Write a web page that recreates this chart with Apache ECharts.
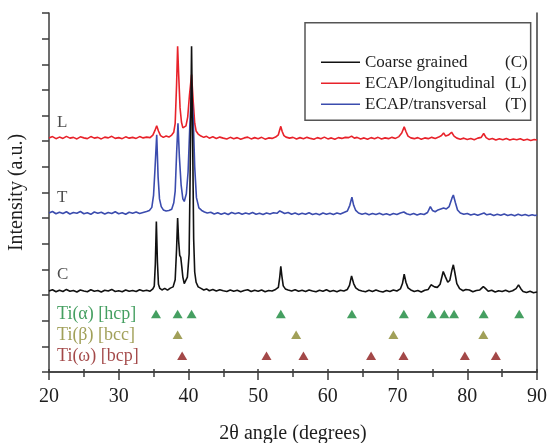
<!DOCTYPE html>
<html><head><meta charset="utf-8">
<script src="https://cdn.jsdelivr.net/npm/echarts@6/dist/echarts.min.js"></script>
<style>html,body{margin:0;padding:0;background:#fff}#c{width:548px;height:443px}</style>
</head><body><div id="c"></div>
<script>
// ---- data (2θ in degrees, intensity in offset arbitrary units) ----
const coarseData = [[20.0,3.16],[20.5,3.21],[21.0,3.13],[21.5,3.19],[22.0,3.14],[22.5,3.22],[23.0,3.15],[23.5,3.18],[24.0,3.12],[24.5,3.2],[25.0,3.16],[25.5,3.13],[26.0,3.21],[26.5,3.15],[27.0,3.18],[27.5,3.12],[28.0,3.19],[28.5,3.16],[29.0,3.22],[29.5,3.14],[30.0,3.17],[30.5,3.13],[31.0,3.2],[31.5,3.15],[32.0,3.18],[32.5,3.14],[33.0,3.21],[33.5,3.16],[34.0,3.19],[34.5,3.15],[34.9,3.24],[35.1,3.35],[35.25,4.2],[35.4,5.87],[35.55,4.3],[35.7,3.42],[35.9,3.26],[36.2,3.2],[36.6,3.26],[37.0,3.19],[37.4,3.27],[37.8,3.32],[38.1,3.6],[38.3,4.8],[38.45,6.0],[38.6,5.1],[38.75,4.55],[38.9,4.47],[39.05,4.1],[39.2,3.7],[39.4,3.45],[39.6,3.42],[39.85,3.7],[40.1,4.6],[40.25,7.8],[40.45,12.7],[40.6,9.2],[40.75,5.2],[40.9,3.9],[41.1,3.5],[41.4,3.32],[41.8,3.26],[42.2,3.2],[42.6,3.24],[43.0,3.17],[43.5,3.22],[44.0,3.16],[44.5,3.21],[45.0,3.17],[45.5,3.14],[46.0,3.2],[46.5,3.15],[47.0,3.19],[47.5,3.13],[48.0,3.18],[48.5,3.21],[49.0,3.14],[49.5,3.19],[50.0,3.15],[50.5,3.2],[51.0,3.13],[51.5,3.18],[52.0,3.16],[52.5,3.22],[52.9,3.3],[53.1,3.7],[53.25,4.12],[53.4,3.75],[53.6,3.36],[53.9,3.24],[54.3,3.2],[54.8,3.16],[55.3,3.21],[55.8,3.15],[56.3,3.19],[56.8,3.14],[57.3,3.2],[57.8,3.16],[58.3,3.13],[58.8,3.19],[59.3,3.15],[59.8,3.21],[60.3,3.14],[60.8,3.18],[61.3,3.13],[61.8,3.19],[62.3,3.16],[62.8,3.22],[63.1,3.38],[63.4,3.75],[63.7,3.45],[64.0,3.28],[64.4,3.2],[64.9,3.16],[65.4,3.13],[65.9,3.19],[66.4,3.14],[66.9,3.2],[67.4,3.15],[67.9,3.12],[68.4,3.18],[68.9,3.14],[69.4,3.2],[69.9,3.16],[70.4,3.24],[70.7,3.45],[70.95,3.82],[71.2,3.5],[71.5,3.28],[71.9,3.2],[72.4,3.14],[72.9,3.18],[73.4,3.12],[73.9,3.19],[74.4,3.22],[74.8,3.4],[75.0,3.46],[75.3,3.32],[75.7,3.3],[76.1,3.42],[76.55,3.92],[76.85,3.72],[77.2,3.5],[77.5,3.58],[77.8,3.98],[78.0,4.18],[78.2,3.9],[78.5,3.45],[78.9,3.25],[79.4,3.17],[79.8,3.22],[80.0,3.28],[80.3,3.2],[80.8,3.13],[81.3,3.18],[81.8,3.2],[82.3,3.33],[82.6,3.26],[83.0,3.15],[83.5,3.19],[84.0,3.12],[84.5,3.17],[85.0,3.14],[85.5,3.19],[86.0,3.13],[86.5,3.17],[87.0,3.25],[87.35,3.4],[87.7,3.24],[88.0,3.14],[88.5,3.1],[89.0,3.15],[89.5,3.09],[90.0,3.12]];

const longitudinalData = [[20.0,9.13],[20.5,9.18],[21.0,9.1],[21.5,9.16],[22.0,9.11],[22.5,9.19],[23.0,9.12],[23.5,9.15],[24.0,9.09],[24.5,9.17],[25.0,9.13],[25.5,9.1],[26.0,9.18],[26.5,9.12],[27.0,9.15],[27.5,9.09],[28.0,9.16],[28.5,9.13],[29.0,9.19],[29.5,9.11],[30.0,9.14],[30.5,9.1],[31.0,9.17],[31.5,9.12],[32.0,9.15],[32.5,9.11],[33.0,9.18],[33.5,9.13],[34.0,9.16],[34.5,9.14],[34.9,9.24],[35.2,9.42],[35.45,9.6],[35.7,9.4],[36.0,9.22],[36.4,9.15],[36.8,9.2],[37.2,9.16],[37.6,9.24],[37.9,9.35],[38.1,9.7],[38.3,11.2],[38.45,12.7],[38.6,11.6],[38.8,10.3],[39.0,9.75],[39.2,9.52],[39.4,9.45],[39.65,9.6],[39.9,9.95],[40.15,10.8],[40.45,11.6],[40.7,10.5],[40.9,9.7],[41.1,9.4],[41.4,9.28],[41.8,9.2],[42.2,9.15],[42.6,9.19],[43.0,9.12],[43.5,9.17],[44.0,9.11],[44.5,9.16],[45.0,9.12],[45.5,9.09],[46.0,9.15],[46.5,9.1],[47.0,9.14],[47.5,9.08],[48.0,9.13],[48.5,9.16],[49.0,9.09],[49.5,9.14],[50.0,9.1],[50.5,9.15],[51.0,9.08],[51.5,9.13],[52.0,9.11],[52.5,9.16],[52.9,9.25],[53.1,9.45],[53.25,9.58],[53.45,9.38],[53.7,9.22],[54.0,9.16],[54.5,9.12],[55.0,9.15],[55.5,9.09],[56.0,9.14],[56.5,9.1],[57.0,9.15],[57.5,9.11],[58.0,9.08],[58.5,9.14],[59.0,9.1],[59.5,9.16],[60.0,9.09],[60.5,9.13],[61.0,9.08],[61.5,9.14],[62.0,9.11],[62.5,9.15],[63.0,9.14],[63.4,9.2],[63.8,9.12],[64.2,9.15],[64.7,9.09],[65.2,9.13],[65.7,9.08],[66.2,9.14],[66.7,9.1],[67.2,9.15],[67.7,9.09],[68.2,9.13],[68.7,9.1],[69.2,9.15],[69.7,9.11],[70.2,9.18],[70.6,9.32],[70.95,9.56],[71.2,9.38],[71.5,9.2],[71.9,9.13],[72.4,9.1],[72.9,9.14],[73.4,9.08],[73.9,9.13],[74.4,9.1],[74.9,9.15],[75.4,9.11],[75.9,9.16],[76.3,9.22],[76.6,9.32],[76.9,9.2],[77.3,9.24],[77.75,9.35],[78.1,9.2],[78.5,9.12],[79.0,9.08],[79.5,9.12],[80.0,9.07],[80.5,9.11],[81.0,9.06],[81.5,9.12],[82.0,9.15],[82.35,9.3],[82.7,9.14],[83.1,9.07],[83.6,9.11],[84.1,9.05],[84.6,9.1],[85.1,9.06],[85.6,9.11],[86.1,9.05],[86.6,9.09],[87.1,9.06],[87.6,9.1],[88.1,9.04],[88.6,9.08],[89.1,9.03],[89.6,9.07],[90.0,9.05]];

const transversalData = [[20.0,6.2],[20.5,6.26],[21.0,6.17],[21.5,6.23],[22.0,6.18],[22.5,6.25],[23.0,6.16],[23.5,6.22],[24.0,6.19],[24.5,6.26],[25.0,6.17],[25.5,6.21],[26.0,6.15],[26.5,6.24],[27.0,6.19],[27.5,6.23],[28.0,6.16],[28.5,6.22],[29.0,6.18],[29.5,6.25],[30.0,6.17],[30.5,6.21],[31.0,6.15],[31.5,6.23],[32.0,6.19],[32.5,6.24],[33.0,6.18],[33.5,6.22],[34.0,6.26],[34.4,6.3],[34.75,6.42],[35.0,6.9],[35.2,7.9],[35.45,9.25],[35.65,7.6],[35.85,6.75],[36.1,6.45],[36.4,6.32],[36.8,6.28],[37.2,6.3],[37.6,6.35],[37.9,6.6],[38.1,7.05],[38.3,8.5],[38.5,9.7],[38.7,8.4],[38.95,7.3],[39.2,6.75],[39.4,6.65],[39.7,6.95],[39.95,7.8],[40.2,9.6],[40.45,11.1],[40.7,9.8],[40.9,8.0],[41.15,6.8],[41.5,6.4],[41.9,6.3],[42.3,6.24],[42.7,6.2],[43.2,6.23],[43.7,6.16],[44.2,6.21],[44.7,6.15],[45.2,6.2],[45.7,6.14],[46.2,6.22],[46.7,6.17],[47.2,6.21],[47.7,6.15],[48.2,6.2],[48.7,6.16],[49.2,6.22],[49.7,6.15],[50.2,6.19],[50.7,6.14],[51.2,6.2],[51.7,6.16],[52.2,6.21],[52.7,6.19],[53.1,6.28],[53.4,6.24],[53.8,6.18],[54.3,6.22],[54.8,6.15],[55.3,6.2],[55.8,6.14],[56.3,6.19],[56.8,6.15],[57.3,6.21],[57.8,6.14],[58.3,6.18],[58.8,6.13],[59.3,6.2],[59.8,6.15],[60.3,6.19],[60.8,6.14],[61.3,6.2],[61.8,6.16],[62.3,6.22],[62.8,6.28],[63.15,6.5],[63.45,6.82],[63.7,6.5],[64.0,6.3],[64.4,6.2],[64.9,6.15],[65.4,6.19],[65.9,6.13],[66.4,6.18],[66.9,6.14],[67.4,6.19],[67.9,6.13],[68.4,6.17],[68.9,6.12],[69.4,6.18],[69.9,6.14],[70.4,6.2],[70.9,6.24],[71.3,6.17],[71.8,6.13],[72.3,6.18],[72.8,6.12],[73.3,6.17],[73.8,6.14],[74.3,6.22],[74.7,6.45],[75.0,6.3],[75.4,6.25],[75.8,6.32],[76.2,6.36],[76.6,6.4],[77.0,6.36],[77.4,6.45],[77.8,6.78],[78.0,6.9],[78.3,6.6],[78.6,6.32],[79.0,6.2],[79.5,6.15],[80.0,6.18],[80.5,6.12],[81.0,6.16],[81.5,6.11],[82.0,6.16],[82.4,6.2],[82.8,6.13],[83.3,6.16],[83.8,6.1],[84.3,6.15],[84.8,6.11],[85.3,6.16],[85.8,6.1],[86.3,6.14],[86.8,6.09],[87.3,6.15],[87.8,6.1],[88.3,6.14],[88.8,6.09],[89.3,6.13],[89.7,6.1],[90.0,6.12]];

// reference peak positions (2θ) for each phase
const alphaPeaks = [35.35, 38.45, 40.45, 53.25, 63.45, 70.9, 74.9, 76.7, 78.1, 82.35, 87.45];
const betaPeaks  = [38.45, 55.45, 69.4, 82.3];
const omegaPeaks = [39.1, 51.2, 56.5, 66.2, 70.85, 79.65, 84.1];

const xTicks = [20, 30, 40, 50, 60, 70, 80, 90];
const seriesNames = ['Coarse grained', 'ECAP/longitudinal', 'ECAP/transversal'];
const seriesCodes = ['(C)', '(L)', '(T)'];
const traceLetters = ['C', 'L', 'T'];
const phaseLabels = ['Ti(α) [hcp]', 'Ti(β) [bcc]', 'Ti(ω) [bcp]'];

// ---- layout / style ----
const FONT = '"Liberation Serif", "Times New Roman", serif';
const TXT = '#1e1e1e';
const AX = '#3c3c3c';
const traceColors = ['#111111', '#e8222a', '#3b4cae'];
const phaseColors = ['#17873a', '#8a8830', '#8c1a1a'];
const phaseRowY = [2.26, 1.45, 0.63];
const letterY = [3.8, 9.72, 6.8];
const labelX = 21.15;

const traces = [coarseData, longitudinalData, transversalData];
const drawOrder = [1, 2, 0];

const series = [];
drawOrder.forEach(i => {
  series.push({
    name: seriesNames[i], type: 'line', data: traces[i], symbol: 'none',
    lineStyle: { color: traceColors[i], width: 1.6 }, itemStyle: { color: traceColors[i] },
    animation: false, silent: true, z: 3 + (i === 0 ? 1 : 0)
  });
});
traceLetters.forEach((t, i) => {
  series.push({
    type: 'scatter', data: [[labelX, letterY[i]]], symbolSize: 0, silent: true, animation: false,
    label: { show: true, position: 'right', distance: 0, formatter: t, fontFamily: FONT, fontSize: 17, color: TXT }
  });
});
[alphaPeaks, betaPeaks, omegaPeaks].forEach((arr, k) => {
  series.push({
    type: 'scatter', data: arr.map(x => [x, phaseRowY[k]]), symbol: 'triangle', symbolSize: [10, 8.5],
    itemStyle: { color: phaseColors[k] }, silent: true, animation: false
  });
  series.push({
    type: 'scatter', data: [[labelX, phaseRowY[k]]], symbolSize: 0, silent: true, animation: false,
    label: { show: true, position: 'right', distance: 0, formatter: phaseLabels[k], fontFamily: FONT, fontSize: 18, color: phaseColors[k] }
  });
});

const axisLineStyle = { color: AX, width: 1.5 };
const chart = echarts.init(document.getElementById('c'), null, { renderer: 'canvas' });
chart.setOption({
  animation: false,
  backgroundColor: '#fff',
  grid: { left: 49, right: 11, top: 13, bottom: 71, containLabel: false, outerBoundsMode: 'none' },
  xAxis: [
    { type: 'value', min: xTicks[0], max: xTicks[xTicks.length - 1], interval: 10, position: 'bottom',
      axisLine: { show: true, lineStyle: axisLineStyle },
      axisTick: { show: true, inside: false, length: 8, lineStyle: axisLineStyle },
      minorTick: { show: true, splitNumber: 2, length: 5, lineStyle: axisLineStyle },
      splitLine: { show: false }, minorSplitLine: { show: false },
      axisLabel: { fontFamily: FONT, fontSize: 20, color: TXT, margin: 15 },
      name: '2θ angle (degrees)', nameLocation: 'middle', nameGap: 52,
      nameTextStyle: { fontFamily: FONT, fontSize: 20, color: TXT } },
    { type: 'value', min: xTicks[0], max: xTicks[xTicks.length - 1], interval: 5, position: 'top',
      axisLine: { show: true, lineStyle: axisLineStyle },
      axisTick: { show: true, inside: false, length: 3, lineStyle: axisLineStyle },
      splitLine: { show: false }, axisLabel: { show: false } }
  ],
  yAxis: [
    { type: 'value', min: 0, max: 14, interval: 1, position: 'left',
      axisLine: { show: true, lineStyle: axisLineStyle },
      axisTick: { show: true, inside: false, length: 7, lineStyle: axisLineStyle },
      splitLine: { show: false }, axisLabel: { show: false },
      name: 'Intensity (a.u.)', nameLocation: 'middle', nameGap: 22,
      nameTextStyle: { fontFamily: FONT, fontSize: 20, color: TXT } },
    { type: 'value', min: 0, max: 14, interval: 1, position: 'right',
      axisLine: { show: true, lineStyle: axisLineStyle },
      axisTick: { show: false }, splitLine: { show: false }, axisLabel: { show: false } }
  ],
  legend: {
    data: seriesNames, orient: 'vertical', left: 305, top: 22.7,
    padding: [31, 3, 7.5, 16], itemGap: 4, itemWidth: 39, itemHeight: 1.5, icon: 'rect',
    borderColor: '#555', borderWidth: 1.5, backgroundColor: '#fff',
    selectedMode: false,
    formatter: name => '{n|' + name + '}{k|' + seriesCodes[seriesNames.indexOf(name)] + '}',
    textStyle: { fontFamily: FONT, fontSize: 17, color: TXT,
      rich: { n: { width: 140, fontFamily: FONT, fontSize: 17, lineHeight: 17, color: TXT },
              k: { fontFamily: FONT, fontSize: 17, lineHeight: 17, color: TXT } } }
  },
  graphic: [
    { type: 'text', x: 421, y: 40, silent: true,
      style: { text: 'Ti-6Al-7Nb alloy', font: '17px ' + FONT, fill: TXT, textAlign: 'center', textVerticalAlign: 'middle' } }
  ],
  series: series
});
</script>
</body></html>
